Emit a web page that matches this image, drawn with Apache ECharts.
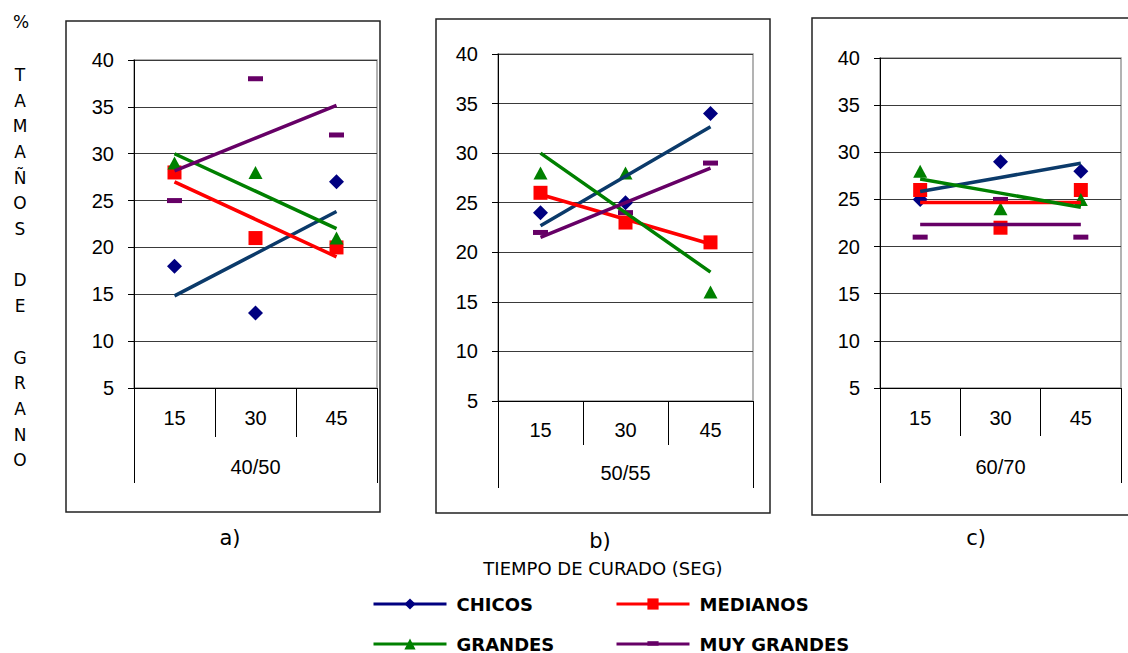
<!DOCTYPE html>
<html>
<head>
<meta charset="utf-8">
<script src="https://cdn.jsdelivr.net/npm/echarts@6/dist/echarts.min.js"></script>
<style>
html, body { margin: 0; padding: 0; background: #fff; }
#chart { width: 1128px; height: 653px; }
</style>
</head>
<body>
<div id="chart"></div>
<script>
// tiempo de curado (seg) y grupos
var tiempos = ['15', '30', '45'];
var grupos = ['40/50', '50/55', '60/70'];
var letras = ['a)', 'b)', 'c)'];

// % tamaños de grano, un arreglo por panel (a, b, c)
var chicos     = [[18, 13, 27], [24, 25, 34], [25, 29, 28]];
var medianos   = [[28, 21, 20], [26, 23, 21], [26, 22, 26]];
var grandes    = [[29, 28, 21], [28, 28, 16], [28, 24, 25]];
var muyGrandes = [[25, 38, 32], [22, 24, 29], [21, 25, 21]];

// recta de tendencia (minimos cuadrados), como la de Excel
function tendencia(v) {
    var n = v.length, sx = 0, sy = 0, sxy = 0, sxx = 0;
    for (var i = 0; i < n; i++) {
        sx += i; sy += v[i]; sxy += i * v[i]; sxx += i * i;
    }
    var m = (n * sxy - sx * sy) / (n * sxx - sx * sx);
    var b = (sy - m * sx) / n;
    return v.map(function (_, i) { return +(b + m * i).toFixed(3); });
}

var defs = [
    { name: 'CHICOS', data: chicos, color: '#000080', trend: '#0b3a6a', symbol: 'diamond', size: 15 },
    { name: 'MEDIANOS', data: medianos, color: '#ff0000', trend: '#ff0000', symbol: 'rect', size: 14 },
    { name: 'GRANDES', data: grandes, color: '#008000', trend: '#008000', symbol: 'triangle', size: [14, 13] },
    { name: 'MUY GRANDES', data: muyGrandes, color: '#660066', trend: '#660066', symbol: 'rect', size: [15, 5],
      legendSymbol: 'path://M0,0M0,2.5h10v4h-10zM10,10' }
];

// posicion de cada panel
var paneles = [
    { left: 134, top: 60, width: 243, height: 328, tick: 49, tickOut: 95, m1: 20, m2: 69 },
    { left: 498, top: 54, width: 255, height: 347, tick: 44, tickOut: 87, m1: 19, m2: 62 },
    { left: 880, top: 58, width: 241, height: 330, tick: 48, tickOut: 95, m1: 20, m2: 69 }
];

var fuenteEje = 'Liberation Sans, Arial, sans-serif';
var grid = [], xAxis = [], yAxis = [], lineas = [], puntos = [];

paneles.forEach(function (p, k) {
    grid.push({
        left: p.left, top: p.top, width: p.width, height: p.height,
        show: true, borderColor: '#9a9a9a', borderWidth: 1.5,
        outerBoundsMode: 'none', containLabel: false
    });
    xAxis.push({
        type: 'category', gridIndex: k, data: tiempos, position: 'bottom', boundaryGap: true,
        axisLine: { show: true, lineStyle: { color: '#000', width: 1 } },
        axisTick: { show: true, length: p.tick, lineStyle: { color: '#000', width: 1 } },
        axisLabel: { margin: p.m1, fontSize: 20, fontFamily: fuenteEje, color: '#000' },
        splitLine: { show: false }
    });
    xAxis.push({
        type: 'category', gridIndex: k, data: [grupos[k]], position: 'bottom', boundaryGap: true,
        axisLine: { show: false },
        axisTick: { show: true, length: p.tickOut, lineStyle: { color: '#000', width: 1 } },
        axisLabel: { margin: p.m2, fontSize: 20, fontFamily: fuenteEje, color: '#000' },
        splitLine: { show: false }
    });
    yAxis.push({
        type: 'value', gridIndex: k, min: 5, max: 40, interval: 5,
        axisLine: { show: true, lineStyle: { color: '#000', width: 1 } },
        axisTick: { show: true, length: 6, lineStyle: { color: '#000' } },
        axisLabel: { margin: 20, fontSize: 20, fontFamily: fuenteEje, color: '#000' },
        splitLine: { show: true, lineStyle: { color: '#3a3a3a', width: 1 } }
    });
    defs.forEach(function (d) {
        lineas.push({
            name: d.name, type: 'line', xAxisIndex: 2 * k, yAxisIndex: k,
            data: tendencia(d.data[k]),
            symbol: d.legendSymbol || d.symbol, showSymbol: false,
            itemStyle: { color: d.color },
            lineStyle: { color: d.trend, width: 3.5 },
            z: 3, silent: true
        });
        puntos.push({
            name: d.name, type: 'scatter', xAxisIndex: 2 * k, yAxisIndex: k,
            data: d.data[k], symbol: d.symbol, symbolSize: d.size,
            itemStyle: { color: d.color, opacity: 1 },
            z: 2, silent: true
        });
    });
});

// leyenda: un componente por entrada para fijar las columnas
var letraLegend = { fontFamily: 'DejaVu Sans', fontWeight: 'bold', fontSize: 18, color: '#000', padding: [0, 0, 0, 5] };
var posLegend = { 'CHICOS': [372, 605], 'MEDIANOS': [615, 605], 'GRANDES': [372, 645], 'MUY GRANDES': [615, 645] };
var legend = defs.map(function (d) {
    var pos = posLegend[d.name];
    return {
        orient: 'horizontal', left: pos[0], top: pos[1] - 10, padding: 0,
        itemWidth: 73, itemHeight: 14,
        data: [{ name: d.name, lineStyle: { color: d.color, width: 3 } }],
        textStyle: letraLegend
    };
});

var graphic = [
    { type: 'rect', shape: { x: 66, y: 21, width: 314, height: 491 }, style: { fill: 'none', stroke: '#222', lineWidth: 1.5 }, silent: true },
    { type: 'rect', shape: { x: 436, y: 19, width: 334, height: 494 }, style: { fill: 'none', stroke: '#222', lineWidth: 1.5 }, silent: true },
    { type: 'rect', shape: { x: 812, y: 18, width: 340, height: 497 }, style: { fill: 'none', stroke: '#222', lineWidth: 1.5 }, silent: true },
    { type: 'text', x: 21, y: 22, style: { text: '%', font: '17px DejaVu Sans', fill: '#000', textAlign: 'center', textVerticalAlign: 'middle' } },
    { type: 'text', x: 20, y: 62, style: { text: 'T\nA\nM\nA\nÑ\nO\nS\n\nD\nE\n\nG\nR\nA\nN\nO', font: '17px DejaVu Sans', fill: '#000',
        textAlign: 'center', textVerticalAlign: 'top', lineHeight: 25.7 } },
    { type: 'text', x: 603, y: 568, style: { text: 'TIEMPO DE CURADO (SEG)', font: '18px DejaVu Sans', fill: '#000', textAlign: 'center', textVerticalAlign: 'middle' } }
];
var centrosLetra = [[230, 538], [600, 541], [976, 538]];
letras.forEach(function (t, k) {
    graphic.push({ type: 'text', x: centrosLetra[k][0], y: centrosLetra[k][1],
        style: { text: t, font: '21px DejaVu Sans', fill: '#000', textAlign: 'center', textVerticalAlign: 'middle' } });
});

var myChart = echarts.init(document.getElementById('chart'), null, { renderer: 'svg' });
myChart.setOption({
    animation: false,
    backgroundColor: '#fff',
    tooltip: { show: false },
    grid: grid,
    xAxis: xAxis,
    yAxis: yAxis,
    legend: legend,
    graphic: graphic,
    series: lineas.concat(puntos)
});
</script>
</body>
</html>
